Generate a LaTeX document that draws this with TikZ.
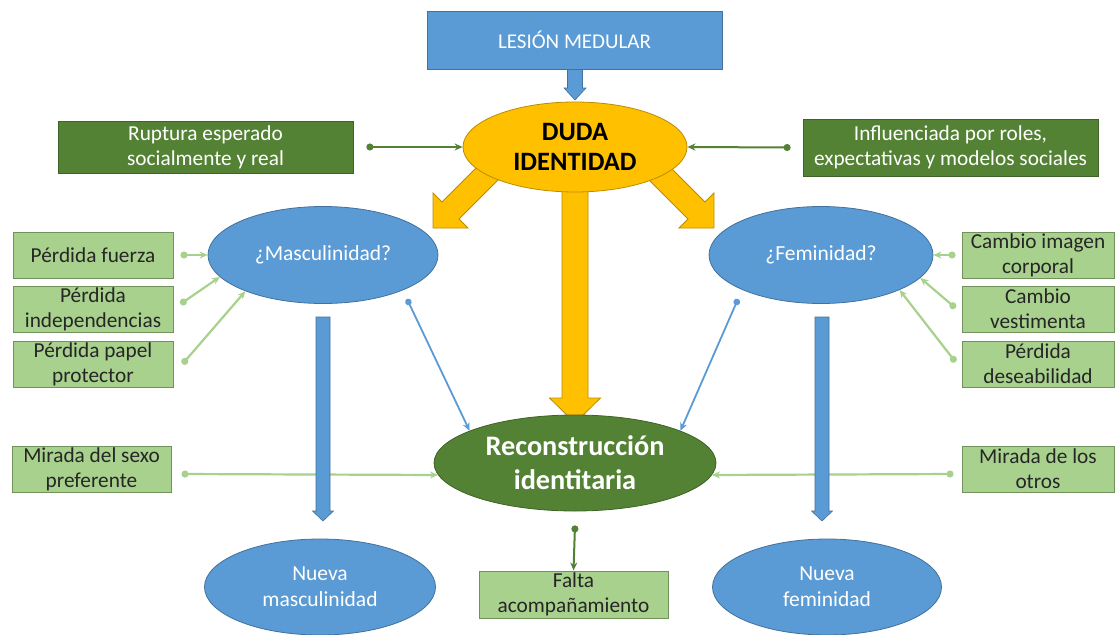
\documentclass[tikz,border=0pt]{standalone}
\usepackage{fontspec}
\setmainfont{Carlito}
\usetikzlibrary{arrows.meta,calc,shapes.geometric}
\definecolor{cblue}{HTML}{5B9BD5}
\definecolor{cblueb}{HTML}{41719C}
\definecolor{cgold}{HTML}{FFC000}
\definecolor{cgoldb}{HTML}{BC8C00}
\definecolor{cdg}{HTML}{548235}
\definecolor{cdgb}{HTML}{3F6227}
\definecolor{clg}{HTML}{A9D18E}
\definecolor{clgb}{HTML}{72925C}
\definecolor{ctext}{HTML}{262626}
\newcommand\blockdown[7]{\draw[#1] ({#2-#6},#3) -- ({#2+#6},#3) -- ({#2+#6},#4) -- ({#2+#7},#4) -- (#2,#5) -- ({#2-#7},#4) -- ({#2-#6},#4) -- cycle;}
\begin{document}
\begin{tikzpicture}[x=1pt,y=-1pt,
  box/.style={rectangle, inner sep=0pt, align=center, font=\fontsize{21.3}{25.3}\selectfont},
  lbox/.style={box, fill=clg, draw=clgb, line width=1pt, text=ctext, minimum height=46pt},
  dbox/.style={box, fill=cdg, draw=cdgb, line width=0.8pt, text=white},
  bbox/.style={box, fill=cblue, draw=cblueb, line width=0.8pt, text=white},
  bell/.style={ellipse, inner sep=0pt, fill=cblue, draw=cblueb, line width=0.8pt, text=white, align=center, font=\fontsize{21.5}{26}\selectfont},
  lconn/.style={draw=clg, line width=2.2pt, {Circle[length=7pt]}-{Stealth[length=8pt,width=7pt]}},
  dconn/.style={draw=cdg, line width=2pt, {Circle[length=7pt]}-{Stealth[length=8pt,width=7pt]}},
  bconn/.style={draw=cblue, line width=1.8pt, {Circle[length=6.5pt]}-{Stealth[length=8pt,width=7pt]}},
  yarrow/.style={fill=cgold, draw=cgoldb, line width=0.8pt, line join=miter},
  barrow/.style={fill=cblue, draw=cblueb, line width=0.6pt, line join=miter}]
\fill[white] (0,0) rectangle (1115,634);
\useasboundingbox (0,0) rectangle (1115,634);

% yellow block arrows
\draw[yarrow] (505.5,138.5) -- (442,202) -- (433,193) -- (433,228) -- (468,228) -- (459,219) -- (522.5,155.5) -- cycle;
\draw[yarrow] (641.5,138.5) -- (705,202) -- (714,193) -- (714,228) -- (679,228) -- (688,219) -- (624.5,155.5) -- cycle;
\blockdown{yarrow}{575}{170}{398}{423}{13}{25.5}

% main nodes
\node[ellipse, inner sep=0pt, fill=cgold, draw=cgoldb, line width=0.8pt, minimum width=224pt, minimum height=90pt, align=center, font=\bfseries\fontsize{26.5}{30}\selectfont] (duda) at (575,147) {DUDA\\IDENTIDAD};
\blockdown{barrow}{575}{62}{88}{100}{7.5}{11}
\node[bbox, minimum width=295pt, minimum height=58pt, font=\fontsize{21}{25}\selectfont] (les) at (574.5,40) {LESIÓN MEDULAR};

\node[dbox, minimum width=295pt, minimum height=52pt] (rup) at (205.5,147) {Ruptura esperado\\socialmente y real};
\node[dbox, minimum width=295pt, minimum height=57pt] (infl) at (950.5,147.5) {Influenciada por roles,\\expectativas y modelos sociales};

\node[bell, minimum width=230pt, minimum height=97pt] (masc) at (323,255) {¿Masculinidad?};
\node[bell, minimum width=224pt, minimum height=97pt] (fem) at (821,255) {¿Feminidad?};

\node[ellipse, inner sep=0pt, fill=cdg, draw=cdgb, line width=0.8pt, text=white, minimum width=282pt, minimum height=96pt, align=center, font=\bfseries\fontsize{28.3}{34}\selectfont] (rec) at (575,463) {Reconstrucción\\identitaria};

\node[bell, minimum width=231pt, minimum height=96pt] (nmasc) at (320,587) {Nueva\\masculinidad};
\node[bell, minimum width=229pt, minimum height=96pt] (nfem) at (827,587) {Nueva\\feminidad};

% light boxes
\node[lbox, minimum width=160pt] (pf) at (93,255) {Pérdida fuerza};
\node[lbox, minimum width=160pt] (pi) at (93,309) {Pérdida\\independencias};
\node[lbox, minimum width=160pt] (pp) at (93,364) {Pérdida papel\\protector};
\node[lbox, minimum width=152pt] (ci) at (1038,255) {Cambio imagen\\corporal};
\node[lbox, minimum width=152pt] (cv) at (1038,309) {Cambio\\vestimenta};
\node[lbox, minimum width=152pt] (pd) at (1038,364) {Pérdida\\deseabilidad};
\node[lbox, minimum width=159pt] (sexo) at (91.5,469) {Mirada del sexo\\preferente};
\node[lbox, minimum width=152pt] (otros) at (1038,469) {Mirada de los\\otros};
\node[lbox, minimum width=189pt, minimum height=47pt] (falta) at (573.5,594.5) {Falta\\acompañamiento};

% connectors
\draw[dconn] ($(rup.east)+(13,0)$) -- (duda.west);
\draw[dconn] ($(infl.west)+(-12,0)$) -- (duda.east);
\draw[dconn] ($(rec.south)+(0,14)$) -- (falta.north);

\draw[lconn] ($(pf.east)+(7,0)$) -- (masc.west);
\draw[lconn] ($(pi.east)+(7,-5)$) -- (masc.192);
\draw[lconn] ($(pp.east)+(9,0)$) -- (masc.205);
\draw[lconn] ($(ci.west)+(-6,0)$) -- (fem.east);
\draw[lconn] ($(cv.west)+(-6,-1)$) -- (fem.347);
\draw[lconn] ($(pd.west)+(-6,-2)$) -- (fem.336);
\draw[lconn] ($(sexo.east)+(10,5)$) -- (rec.185);
\draw[lconn] ($(otros.west)+(-8,5)$) -- (rec.355);

\draw[bconn] ($(masc.center)+(84,44)$) -- (rec.163);
\draw[bconn] ($(fem.center)+(-83,44)$) -- (rec.17);

% blue block arrows
\blockdown{barrow}{323}{317}{511}{521}{7}{10.5}
\blockdown{barrow}{822}{317}{511}{521}{7}{10.5}
\end{tikzpicture}
\end{document}
